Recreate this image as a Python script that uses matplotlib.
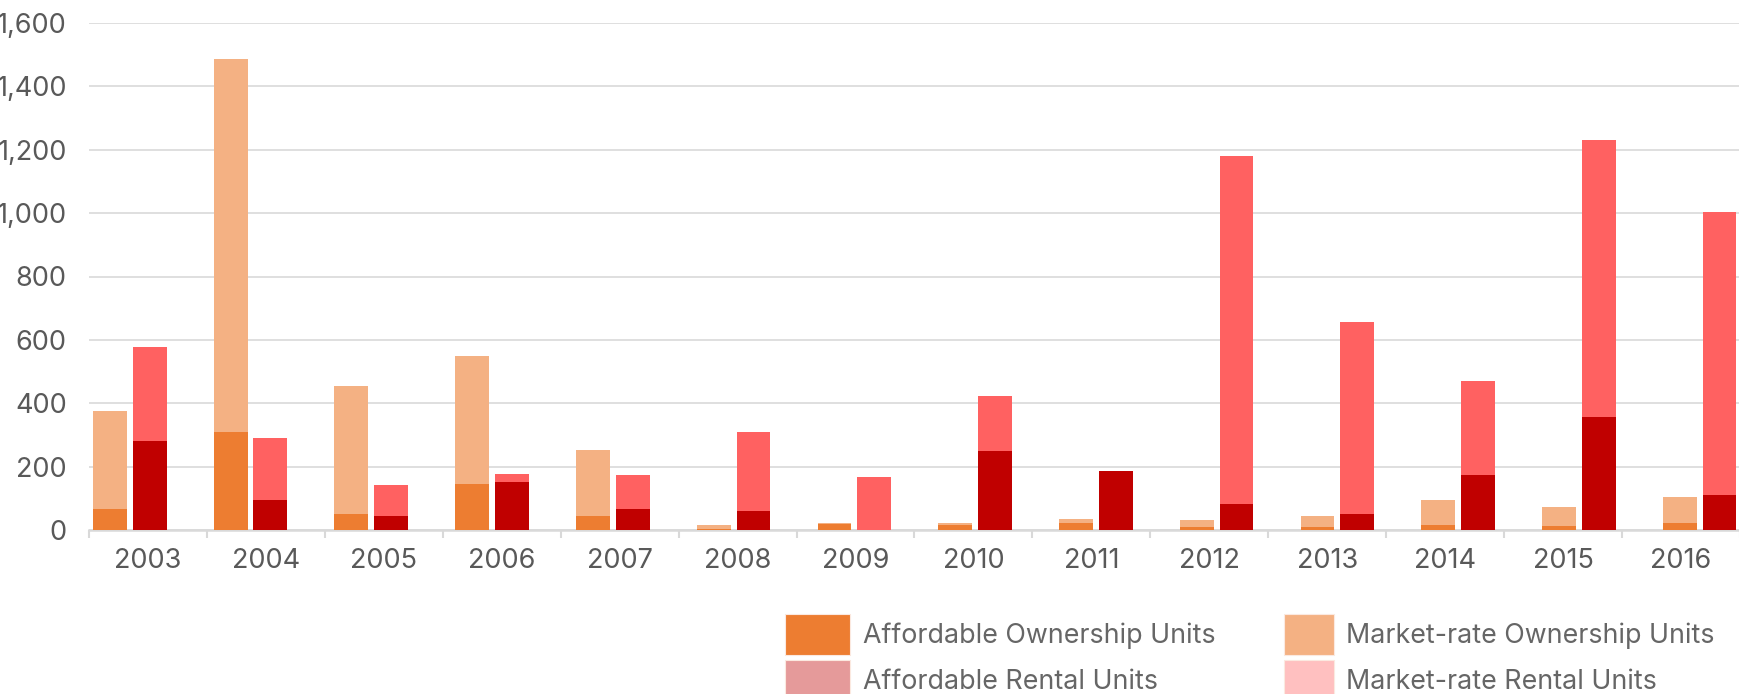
import matplotlib
matplotlib.use("Agg")
import matplotlib.pyplot as plt
from matplotlib.patches import Rectangle
from matplotlib.ticker import FuncFormatter
import numpy as np

# Daten (Einheiten je Jahr)
years = ['2003', '2004', '2005', '2006', '2007', '2008', '2009',
         '2010', '2011', '2012', '2013', '2014', '2015', '2016']
affordable_ownership = [66, 309, 52, 146, 43, 4, 18, 17, 21, 10, 8, 17, 14, 21]
market_ownership = [309, 1176, 401, 402, 210, 13, 3, 6, 13, 23, 35, 79, 60, 84]
affordable_rental = [281, 95, 45, 150, 67, 61, 0, 248, 186, 83, 52, 172, 358, 112]
market_rental = [296, 195, 98, 28, 108, 249, 168, 176, 1, 1096, 603, 297, 872, 893]

legend_labels = ['Affordable Ownership Units', 'Market-rate Ownership Units',
                 'Affordable Rental Units', 'Market-rate Rental Units']

# Farben
C_AFF_OWN = '#ED7D31'
C_MKT_OWN = '#F4B183'
C_AFF_RENT = '#C00000'
C_MKT_RENT = '#FF6161'
LEGEND_COLORS = ['#ED7D31', '#F4B183', '#E59A9A', '#FFC0C0']
GRID = '#D9D9D9'
TEXT = '#595959'

W, H = 1740, 694
FONT = 'Inter'

# Layout (Pixel der Vorlage -> Achsen-Einheiten)
PX_PER_UNIT = 121.5
FIRST_CENTER_PX = 130
AX_LEFT_PX = 89
TICK_STEP = 118.65 / PX_PER_UNIT
BAR_W = 34 / PX_PER_UNIT
OFFSET = 20 / PX_PER_UNIT

fig = plt.figure(figsize=(W / 100, H / 100), dpi=100)
ax_bottom = (H - 530) / H
ax_top = (H - 23) / H
ax = fig.add_axes([AX_LEFT_PX / W, ax_bottom, 1 - AX_LEFT_PX / W, ax_top - ax_bottom])

x = np.arange(len(years))
ao = np.array(affordable_ownership)
mo = np.array(market_ownership)
ar = np.array(affordable_rental)
mr = np.array(market_rental)

ax.bar(x - OFFSET, ao, BAR_W, color=C_AFF_OWN, zorder=3, linewidth=0)
ax.bar(x - OFFSET, mo, BAR_W, bottom=ao, color=C_MKT_OWN, zorder=3, linewidth=0)
ax.bar(x + OFFSET, ar, BAR_W, color=C_AFF_RENT, zorder=3, linewidth=0)
ax.bar(x + OFFSET, mr, BAR_W, bottom=ar, color=C_MKT_RENT, zorder=3, linewidth=0)

left = (AX_LEFT_PX - FIRST_CENTER_PX) / PX_PER_UNIT
right = (W - FIRST_CENTER_PX) / PX_PER_UNIT
ax.set_xlim(left, right)
ax.set_ylim(0, 1600)

# Y-Achse
ax.set_yticks(np.arange(0, 1601, 200))
ax.yaxis.set_major_formatter(FuncFormatter(lambda v, p: f"{int(v):,}"))
ax.tick_params(axis='y', length=0, pad=16, labelsize=19.5, labelcolor=TEXT)
ax.grid(axis='y', color=GRID, linewidth=1.2, zorder=0)
ax.set_axisbelow(True)

# X-Achse: Beschriftungen mittig, Striche an den Grenzen
bounds = left + np.arange(len(years) + 1) * TICK_STEP
centers = left + (np.arange(len(years)) + 0.5) * TICK_STEP
ax.set_xticks(centers)
ax.set_xticklabels(years)
ax.set_xticks(bounds, minor=True)
ax.tick_params(axis='x', which='major', length=0, pad=13, labelsize=19.5, labelcolor=TEXT)
ax.tick_params(axis='x', which='minor', length=6, width=1.5, color=GRID)

for lbl in ax.get_xticklabels() + ax.get_yticklabels():
    lbl.set_fontfamily(FONT)

for s in ['top', 'right', 'left']:
    ax.spines[s].set_visible(False)
ax.spines['bottom'].set_color(GRID)
ax.spines['bottom'].set_linewidth(1.8)

# Legende von Hand
patch_pos = [(785, 614, 65), (1284, 614, 50), (785, 660, 65), (1284, 660, 50)]
text_x = [863, 1346, 863, 1346]
for (px, py, pw), tx, col, lab in zip(patch_pos, text_x, LEGEND_COLORS, legend_labels):
    fig.add_artist(Rectangle((px / W, 1 - (py + 41) / H), pw / W, 41 / H,
                             transform=fig.transFigure, facecolor=col,
                             edgecolor='#FBE9E0', linewidth=0.8))
    fig.text(tx / W, 1 - (py + 22) / H, lab, fontsize=19.3, color='#666666',
             fontfamily=FONT, va='center', ha='left')

fig.savefig('out.png', dpi=100)
